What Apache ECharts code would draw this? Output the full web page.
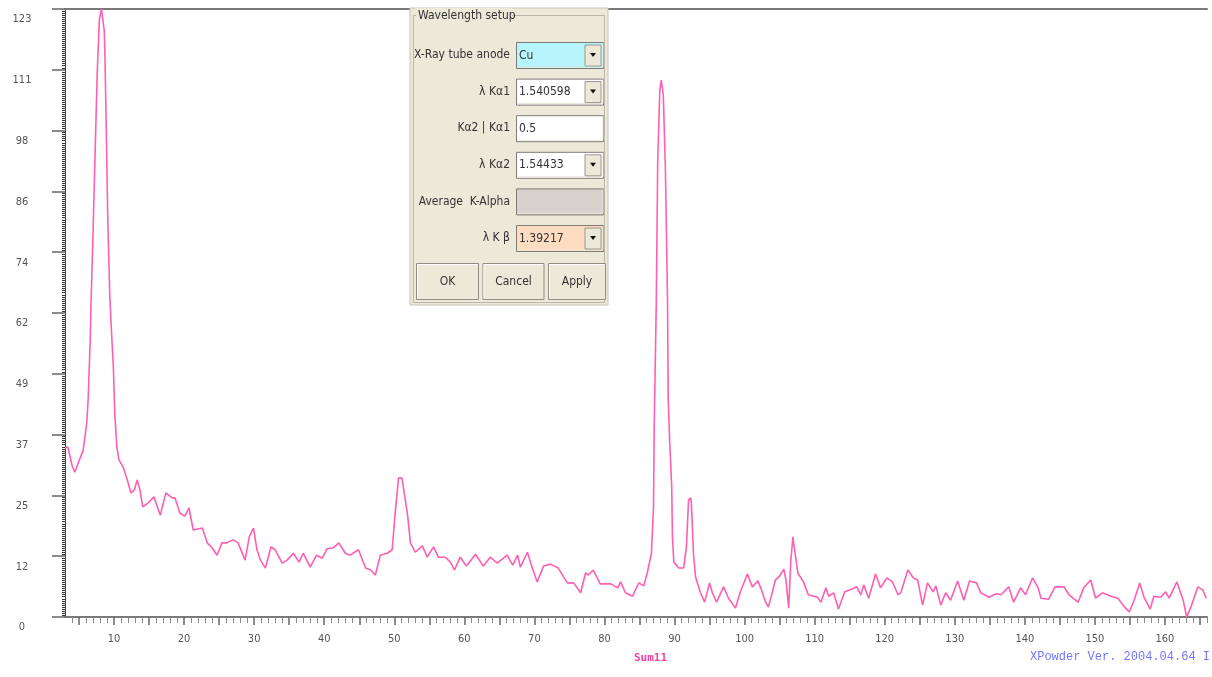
<!DOCTYPE html>
<html><head><meta charset="utf-8">
<script src="https://cdn.jsdelivr.net/npm/echarts@6/dist/echarts.min.js"></script>
<style>html,body{margin:0;padding:0;background:#fff}#c{width:1212px;height:677px}</style>
</head><body><div id="c"></div>
<script>
// ---- data (2-theta in degrees, intensity in counts) ----
const twoTheta = [
  3.0,3.4,4.0,4.4,4.9,5.6,6.1,6.3,6.6,6.7,7.0,7.3,7.6,7.9,8.2,8.6,8.7,8.9,9.1,9.4,
  9.7,9.9,10.1,10.4,10.7,11.3,11.9,12.4,12.9,13.3,13.7,14.1,14.9,15.7,16.6,17.4,18.3,18.7,19.4,20.1,
  20.7,21.3,22.6,23.3,24.0,24.7,25.4,26.1,27.0,27.7,28.7,29.3,29.9,30.4,30.9,31.6,32.4,33.0,34.0,34.7,
  35.6,36.4,37.0,38.0,38.9,39.7,40.4,41.3,42.1,43.0,43.7,44.1,44.9,45.9,46.6,47.3,48.0,49.0,49.7,50.1,
  50.6,51.1,51.9,52.3,53.0,54.0,54.7,55.6,56.3,57.3,58.0,58.6,59.4,60.3,61.6,62.7,63.7,64.7,66.1,66.9,
  67.6,68.0,69.0,69.7,70.4,71.3,72.3,73.4,74.7,75.6,76.6,77.3,77.7,78.4,79.4,80.9,81.9,82.3,83.0,84.0,
  84.9,85.6,86.1,86.7,87.0,87.1,87.4,87.6,87.9,88.1,88.4,88.7,89.0,89.1,89.3,89.6,89.7,89.9,90.6,91.3,
  91.7,92.0,92.3,92.4,92.7,93.0,93.7,94.3,95.0,95.4,96.0,97.0,97.7,98.7,99.4,100.4,101.1,101.9,102.3,103.0,
  103.4,104.4,104.9,105.6,105.9,106.3,106.6,106.9,107.0,107.6,108.4,109.1,110.4,110.9,111.6,112.0,112.7,113.4,114.3,115.1,
  116.0,116.6,117.0,117.7,118.7,119.4,120.3,121.1,121.9,122.3,123.3,124.1,124.7,125.4,126.1,126.9,127.3,128.0,128.7,129.4,
  130.4,131.3,132.1,133.1,133.7,134.9,135.9,136.6,137.7,138.4,139.4,140.1,141.1,141.9,142.3,143.4,144.3,145.6,146.3,147.6,
  148.4,149.4,150.1,151.1,152.3,153.3,154.0,154.9,155.6,156.4,157.0,157.9,158.4,159.4,160.1,160.6,161.7,162.6,163.1,163.7,
  164.7,165.4,165.9
];
const intensity = [
  34.2,34.4,30.7,29.3,31.2,33.8,39.2,43.9,56.0,62.7,77.7,93.9,110.1,120.8,123,118.7,113.7,97.9,80.9,64.7,
  56.0,50.6,41.3,34.4,31.8,30.3,27.7,25.1,25.7,27.7,25.7,22.3,23.1,24.3,20.6,25.1,24.1,24.1,21.0,20.4,
  22.1,17.6,18.0,15.0,14.0,12.5,15.0,15.0,15.6,15.0,11.5,16.2,18.0,13.6,11.5,9.9,14.2,13.6,10.9,11.5,
  12.9,11.1,12.9,10.1,12.5,11.9,13.8,14.0,15.0,12.9,12.5,12.9,13.6,9.9,9.5,8.5,12.5,12.9,13.6,20.6,
  28.1,28.1,20.6,15.0,13.1,14.4,12.1,14.2,12.1,12.1,11.1,9.5,12.1,10.3,12.7,10.3,12.1,10.9,12.5,10.5,
  12.5,10.1,13.1,9.9,7.1,10.3,10.7,9.9,6.9,6.9,4.9,8.9,8.5,9.5,6.7,6.7,5.9,7.1,4.9,4.2,
  6.9,6.3,8.9,12.9,22.3,38.4,64.1,92.5,106.6,108.6,105.6,90.4,64.1,43.9,35.8,26.3,16.2,11.1,9.9,9.9,
  14.2,23.7,24.1,23.1,12.9,8.1,4.9,3.0,6.9,4.9,3.0,6.1,3.8,1.8,5.1,8.7,6.1,7.3,5.9,3.0,
  2.0,7.5,8.1,9.7,7.5,1.8,11.5,16.2,15.0,8.9,7.1,4.5,4.0,3.0,5.9,4.2,4.9,1.6,5.1,5.5,
  6.1,4.5,6.5,3.8,8.7,5.9,7.9,7.1,4.5,4.9,9.5,7.9,7.5,2.4,6.9,5.1,6.3,2.4,4.9,3.4,
  7.3,3.4,7.3,6.9,4.9,4.0,4.7,4.5,6.1,3.0,5.9,4.5,7.9,5.9,3.8,3.6,6.1,6.1,4.5,3.0,
  5.9,7.5,3.8,4.9,4.2,3.8,2.4,1.0,3.4,6.9,4.0,1.6,4.2,4.0,5.1,3.8,7.1,3.4,0,2.0,
  6.1,5.5,3.8
];
const xTickLabels = [10,20,30,40,50,60,70,80,90,100,110,120,130,140,150,160];
const yTickLabels = ['0','12','25','37','49','62','74','86','98','111','123'];
const seriesName = 'Sum11';
const footerText = 'XPowder Ver. 2004.04.64 I';
const dialogTitle = 'Wavelength setup';
const dialogLabels = ['X-Ray tube anode','\u03bb K\u03b11','K\u03b12 | K\u03b11','\u03bb K\u03b12','Average  K-Alpha','\u03bb K \u03b2'];
const dialogValues = ['Cu','1.540598','0.5','1.54433','','1.39217'];
const dialogButtons = ['OK','Cancel','Apply'];

// ---- derived axis helpers ----
const X_MIN = 3, X_MAX = 166, Y_MAX = 123, Y_STEP = 12.3;
const xMajorTicks = [], xMinorTicks = [];
for (let v = 4; v <= X_MAX; v++) { (v % 5 === 0 ? xMajorTicks : xMinorTicks).push(v); }

// ---- dialog decoration ----
const UI_FONT = '"Liberation Sans Narrow","DejaVu Sans Condensed","Arial Narrow",sans-serif';
const fieldFills = ['#b6f5fb','#ffffff','#ffffff','#ffffff','#d6d3ce','#fddcc2'];
const hasCombo = [true,true,false,true,false,true];
const BG = '#ece9d8';
const g = [];
g.push({type:'rect', shape:{x:410,y:8,width:198,height:297}, style:{fill:BG, stroke:'#c8c5b6', lineWidth:1}, z:100});
g.push({type:'rect', shape:{x:413.5,y:15.5,width:191,height:287}, style:{fill:null, stroke:'#b9b6aa', lineWidth:1}, z:101});
g.push({type:'rect', shape:{x:416,y:8,width:96,height:15}, style:{fill:BG}, z:102});
g.push({type:'text', x:418, y:15.5, style:{text:dialogTitle, fill:'#333', font:'12px '+UI_FONT, verticalAlign:'middle', textVerticalAlign:'middle'}, z:103});
dialogLabels.forEach((lab, i) => {
  const top = 42 + i * 36.6;
  g.push({type:'text', x:510, y:top+13, style:{text:lab, fill:'#333', font:'12px '+UI_FONT, align:'right', textAlign:'right', verticalAlign:'middle', textVerticalAlign:'middle'}, z:103});
  g.push({type:'rect', shape:{x:516.5,y:top+0.5,width:87,height:26}, style:{fill:fieldFills[i], stroke:'#7d7b74', lineWidth:1}, z:103});
  g.push({type:'polyline', shape:{points:[[517.5,top+25],[603,top+25],[603,top+1]]}, style:{stroke:'#e8e6dc', lineWidth:1, fill:null}, z:104});
  if (dialogValues[i]) {
    g.push({type:'text', x:519, y:top+13.5, style:{text:dialogValues[i], fill:'#333', font:'12px '+UI_FONT, verticalAlign:'middle', textVerticalAlign:'middle'}, z:104});
  }
  if (hasCombo[i]) {
    g.push({type:'rect', shape:{x:585,y:top+3,width:16,height:21}, style:{fill:BG, stroke:'#9a988e', lineWidth:1}, z:104});
    g.push({type:'polygon', shape:{points:[[590,top+11],[596,top+11],[593,top+15]]}, style:{fill:'#111'}, z:105});
  }
});
const btnX = [416, 482.5, 548], btnW = [62, 61, 57];
dialogButtons.forEach((b, i) => {
  g.push({type:'rect', shape:{x:btnX[i]+0.5,y:263.5,width:btnW[i],height:36}, style:{fill:BG, stroke:'#8f8d84', lineWidth:1}, z:103});
  g.push({type:'polyline', shape:{points:[[btnX[i]+1.5,298],[btnX[i]+1.5,264.5],[btnX[i]+btnW[i]-0.5,264.5]]}, style:{stroke:'#ffffff', lineWidth:1, fill:null}, z:104});
  g.push({type:'text', x:btnX[i]+btnW[i]/2+0.5, y:282, style:{text:b, fill:'#333', font:'12px '+UI_FONT, align:'center', textAlign:'center', verticalAlign:'middle', textVerticalAlign:'middle'}, z:104});
});

const AX_FONT = '"DejaVu Sans Condensed","Liberation Sans Narrow",sans-serif';
const chart = echarts.init(document.getElementById('c'), null, {renderer:'canvas'});
chart.setOption({
  animation: false,
  backgroundColor: '#ffffff',
  title: [
    {text: seriesName, left: 634, top: 653, padding: 0,
     textStyle: {color:'#ff3d9a', fontSize: 11, fontWeight:'bold', fontFamily:'"DejaVu Sans Mono",monospace'}},
    {text: footerText, left: 1030, top: 651, padding: 0,
     textStyle: {color:'#7474ff', fontSize: 12, fontWeight:'normal', fontFamily:'"Liberation Mono","DejaVu Sans Mono",monospace'}}
  ],
  grid: {left: 65, right: 5, top: 9, bottom: 60, containLabel: false},
  xAxis: [
    {type:'value', min:X_MIN, max:X_MAX, position:'bottom',
     axisLine:{show:true, onZero:false, lineStyle:{color:'#7a7a7a', width:2}},
     axisTick:{show:true, customValues:xMajorTicks, length:8, lineStyle:{color:'#666', width:1.5}},
     axisLabel:{customValues:xTickLabels, margin:17, fontSize:11, color:'#555', fontFamily:AX_FONT,
                formatter:(v)=>String(v)},
     splitLine:{show:false}},
    {type:'value', min:X_MIN, max:X_MAX, position:'bottom', offset:6,
     axisLine:{show:false},
     axisTick:{show:true, customValues:xMinorTicks, length:6, lineStyle:{color:'#888', width:1}},
     axisLabel:{show:false}, splitLine:{show:false}},
    {type:'value', min:X_MIN, max:X_MAX, position:'top',
     axisLine:{show:true, onZero:false, lineStyle:{color:'#7a7a7a', width:2}},
     axisTick:{show:false}, axisLabel:{show:false}, splitLine:{show:false}}
  ],
  yAxis: {
    type:'value', min:0, max:Y_MAX, interval:Y_STEP,
    axisLine:{show:true, lineStyle:{color:'#444', width:1}},
    axisTick:{show:true, length:13, lineStyle:{color:'#666', width:1.5}},
    minorTick:{show:true, splitNumber:30, length:3, lineStyle:{color:'#333', width:1}},
    splitLine:{show:false}, minorSplitLine:{show:false},
    axisLabel:{margin:43, align:'center', verticalAlign:'top', padding:[5,0,0,0],
               fontSize:11, color:'#555', fontFamily:AX_FONT,
               formatter:(v)=>yTickLabels[Math.round(v / Y_STEP)] || ''}
  },
  series: [{
    name: seriesName, type:'line', xAxisIndex:0,
    data: twoTheta.map((x, i) => [x, intensity[i]]),
    showSymbol:false, smooth:false, clip:true,
    lineStyle:{color:'#ff5fae', width:1.6}
  }],
  graphic: g
});
</script>
</body></html>
